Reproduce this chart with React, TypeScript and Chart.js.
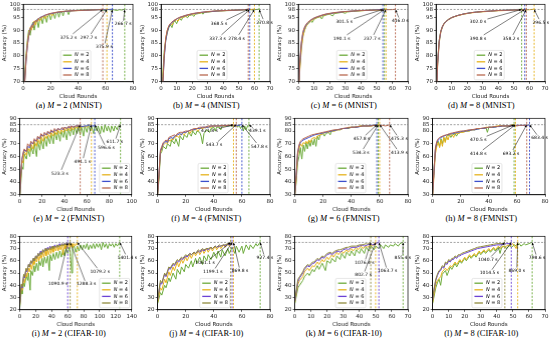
import React, { useEffect, useRef } from 'react';
import { Chart, registerables } from 'chart.js';
Chart.register(...registerables);

type P = [number, number];
type Note = [string, number, number, number];

const FONT = "'DejaVu Sans', sans-serif";
const N_LABELS = ['2', '4', '6', '8'];
const COLORS_A = ['#6dab3c', '#e6b31e', '#3d4fcc', '#b8684f'];
const COLORS_C = ['#6dab3c', '#e6b31e', '#6b42d4', '#8f8a3c'];

const MNIST_TICKS = [70, 75, 80, 85, 90, 95, 98, 100];
const FMNIST_TICKS = [30, 40, 50, 60, 70, 80, 85, 90];
const CIFAR_TICKS = [20, 30, 40, 50, 60, 70, 75, 80];

// ---------- (a) M=2 MNIST ----------
const a2: P[] = [[0,62],[1,72],[2,80],[3,86],[4,90],[5,88],[6,91],[7,93],[8,90],[9,93],[10,94],[11,91],[12,94],[13,95],[14,92.5],[15,95],[16,95.5],[17,93],[18,95.5],[19,96],[20,94],[21,96],[22,96.5],[23,94.5],[24,96.5],[25,97],[26,95],[27,97],[28,97.2],[29,95.5],[30,97.3],[32,97.4],[33,96],[34,97.5],[36,97.6],[38,97.6],[40,97.7],[44,97.8],[48,97.9],[52,97.9],[56,98],[60,97.6],[62,98],[64,97.8],[66,97.9],[68,97.6],[70,97.9],[72,97.8],[74,98.1]];
const a4: P[] = [[0,60],[1,70],[2,79],[3,85],[4,89],[5,91],[6,90],[7,92.5],[8,93.5],[9,92],[10,94],[11,94.5],[12,93.5],[14,95],[15,95.5],[16,94.5],[18,96],[20,96.3],[21,95.5],[22,96.5],[24,96.8],[26,97],[28,97.1],[30,97.2],[34,97.4],[38,97.5],[42,97.6],[46,97.7],[50,97.8],[54,97.9],[58,97.9],[61,98.1]];
const a6: P[] = [[0,58],[1,70],[2,78],[3,84],[4,88],[5,90.5],[6,91.5],[7,92.5],[8,93.2],[10,94],[12,94.8],[14,95.3],[16,95.8],[18,96.1],[20,96.4],[22,96.6],[25,96.9],[28,97.1],[32,97.3],[36,97.5],[40,97.6],[45,97.7],[50,97.8],[55,97.9],[60,97.9],[65,98.1]];
const a8: P[] = [[0,57],[1,69],[2,78],[3,84],[4,88],[5,90],[6,91.8],[7,91],[8,93],[9,93.8],[10,93.2],[11,94.3],[12,94.8],[14,95.2],[16,95.8],[18,96.2],[20,96.5],[22,96.7],[25,97],[28,97.2],[32,97.4],[36,97.5],[40,97.6],[45,97.7],[50,97.8],[54,97.9],[58,98.1]];
const aNotes: Note[] = [['375.2 s',33,87.2,3],['297.7 s',47.6,87.1,1],['375.9 s',59,83.5,2],['266.7 s',72.8,92.3,0]];

// ---------- (b) M=4 MNIST ----------
const b2: P[] = [[0,60],[1,72],[2,82],[3,86],[4,89],[5,91],[6,92],[7,91],[8,93],[9,93.5],[10,92.5],[11,94],[12,94.5],[13,93.8],[14,95],[16,95.3],[17,94.8],[18,95.6],[20,96],[21,95.3],[22,96.2],[24,96.4],[26,96.7],[27,96.2],[28,96.9],[30,97],[33,97.2],[36,97.4],[40,97.5],[45,97.6],[50,97.8],[55,97.9],[60,97.9],[63,98.1]];
const b4: P[] = [[0,60],[1,70],[2,80],[3,87],[4,90],[5,91.5],[6,92.3],[7,92],[8,93.3],[10,94],[11,93.5],[12,94.6],[14,95],[16,95.4],[18,95.8],[20,96.1],[22,96.3],[25,96.7],[28,96.9],[32,97.2],[36,97.4],[40,97.5],[45,97.7],[50,97.8],[55,97.9],[60,98.1]];
const b6: P[] = [[0,58],[1,68],[2,79],[3,86],[4,89.5],[5,91.3],[6,92.3],[8,93.5],[10,94.3],[12,94.9],[14,95.3],[16,95.7],[18,96],[20,96.3],[23,96.6],[26,96.9],[30,97.1],[34,97.3],[38,97.5],[42,97.6],[46,97.7],[50,97.8],[54,97.9],[57,98.1]];
const b8: P[] = [[0,57],[1,67],[2,80],[3,87],[4,90],[5,91.8],[6,92.6],[8,93.7],[10,94.4],[12,95],[14,95.4],[16,95.8],[18,96.1],[20,96.4],[23,96.7],[26,96.9],[30,97.2],[34,97.4],[38,97.5],[42,97.6],[46,97.7],[50,97.8],[53,97.9],[56,98.1]];
const bNotes: Note[] = [['368.5 s',37.3,92.6,3],['337.3 s',36.3,86.8,2],['278.4 s',48.5,86.8,1],['270.8 s',66.5,92.9,0]];

// ---------- (c) M=6 MNIST ----------
const c2: P[] = [[0,62],[1,76],[2,84],[3,88],[4,90],[5,91.5],[6,92.3],[7,93],[8,93.5],[9,93],[10,94.2],[12,94.8],[14,95.2],[15,94.3],[16,95.5],[18,95.9],[20,96.2],[22,95.5],[23,96.4],[25,96.6],[28,96.9],[30,96.5],[31,97],[35,97.3],[40,97.5],[45,97.7],[50,97.8],[53,97.9],[55,98.1]];
const c4: P[] = [[0,62],[1,75],[2,83],[3,87.5],[4,90],[5,91.5],[6,92.4],[8,93.6],[10,94.3],[12,94.9],[14,95.3],[16,95.7],[18,96],[20,96.3],[23,96.6],[26,96.9],[30,97.1],[35,97.4],[40,97.5],[45,97.7],[50,97.8],[56,98.1]];
const c6: P[] = [[0,63],[1,77],[2,85],[3,89],[4,90.8],[5,92],[6,92.8],[8,93.9],[10,94.6],[12,95.1],[14,95.5],[16,95.9],[18,96.2],[20,96.4],[23,96.7],[26,96.9],[30,97.2],[35,97.4],[40,97.6],[45,97.7],[50,97.9],[54,98.1]];
const c8: P[] = [[0,63],[1,78],[2,85.5],[3,89.5],[4,91.2],[5,92.3],[6,93],[8,94],[10,94.7],[12,95.2],[14,95.6],[16,96],[18,96.3],[20,96.5],[23,96.8],[26,97],[30,97.2],[35,97.4],[40,97.6],[45,97.7],[50,97.8],[55,97.9],[60,97.95],[62,98.1]];
const cNotes: Note[] = [['301.5 s',29.4,93.3,2],['190.1 s',27.7,86.8,0],['237.7 s',47,86.8,1],['416.0 s',65,93.5,3]];

// ---------- (d) M=8 MNIST ----------
const d2: P[] = [[0,62],[1,78],[2,86],[3,89.5],[4,91.3],[5,92.5],[6,93.2],[8,94.2],[10,94.9],[12,95.3],[14,95.7],[16,96],[18,96.3],[20,96.5],[23,96.8],[26,97],[30,97.2],[35,97.4],[40,97.6],[45,97.7],[50,97.9],[55,98.1]];
const d4: P[] = [[0,60],[1,76],[2,85],[3,89],[4,91],[5,92.2],[6,93],[8,94],[10,94.7],[12,95.2],[14,95.6],[16,95.9],[18,96.2],[20,96.4],[23,96.7],[26,96.9],[30,97.1],[35,97.3],[40,97.5],[45,97.6],[50,97.7],[55,97.8],[60,97.9],[63,98.1]];
const d6: P[] = [[0,61],[1,77],[2,85.5],[3,89.3],[4,91.2],[5,92.4],[6,93.1],[8,94.1],[10,94.8],[12,95.3],[14,95.7],[16,96],[18,96.3],[20,96.5],[23,96.8],[26,97],[30,97.2],[35,97.4],[40,97.6],[45,97.7],[50,97.8],[55,97.9],[57,98.1]];
const d8: P[] = [[0,61],[1,77.5],[2,86],[3,89.6],[4,91.4],[5,92.5],[6,93.2],[8,94.2],[10,94.9],[12,95.3],[14,95.7],[16,96],[18,96.3],[20,96.5],[23,96.8],[26,97],[30,97.2],[35,97.4],[40,97.6],[45,97.7],[50,97.8],[55,97.9],[58,98.1]];
const dNotes: Note[] = [['302.0 s',27,93.3,0],['390.8 s',27,86.8,2],['358.2 s',48.2,86.8,3],['296.5 s',67.3,92.9,1]];

// ---------- (e) M=2 FMNIST ----------
const e2: P[] = [[0,28],[1,40],[2,52],[3,50],[4,62],[6,58],[7,66],[9,60],[10,68],[12,62],[13,71],[15,60],[16,72],[18,65],[19,74],[21,66],[22,75],[24,68],[25,76],[27,70],[28,78],[30,70],[31,79],[33,73],[34,80],[36,72],[37,80],[39,75],[40,81],[42,73],[43,82],[45,76],[46,83],[48,77],[49,83],[51,78],[52,84],[54,77],[55,84],[57,76],[58,84],[60,79],[61,85],[63,80],[64,84],[66,78],[67,84],[69,80],[70,84],[72,78],[73,84],[75,79],[76,85],[78,80],[79,84],[81,79],[82,84],[84,80],[85,84],[87,81],[88,84],[90,85.3]];
const e4: P[] = [[0,30],[1,45],[2,57],[3,55],[4,64],[6,61],[7,67],[9,64],[10,70],[12,66],[13,72],[15,68],[16,74],[18,70],[19,76],[21,72],[22,77],[24,74],[25,78],[27,75],[28,79],[30,76],[31,80],[33,77],[34,81],[36,78],[37,81],[39,79],[40,82],[42,80],[43,83],[45,80],[46,83],[48,81],[49,84],[51,82],[52,84],[54,82],[55,84],[57,83],[58,84],[60,83],[62,84.5],[64,85.3]];
const e6: P[] = [[0,30],[1,46],[2,58],[3,62],[4,65],[6,64],[7,68],[9,67],[10,71],[12,70],[13,73],[15,72],[16,75],[18,74],[19,77],[21,76],[22,78],[24,77],[25,79],[27,78],[28,80],[30,79],[31,81],[33,80],[34,82],[36,81],[37,82],[39,81],[40,83],[42,82],[43,83],[45,83],[46,84],[48,83],[50,84],[52,84],[54,84],[56,83.5],[58,84],[60,84],[62,85],[63,83.5],[64,84],[66,84],[67,85.3]];
const e8: P[] = [[0,30],[1,47],[2,58],[3,63],[4,66],[6,64],[7,70],[9,68],[10,72],[12,70],[13,74],[15,72],[16,76],[18,74],[19,78],[21,76],[22,79],[24,77],[25,80],[27,78],[28,81],[30,79],[31,82],[33,80],[34,82],[36,81],[38,83],[39,81],[40,83],[42,82],[44,84],[45,82],[46,84],[48,83],[50,84],[52,84],[54,85.3]];
const eNotes: Note[] = [['523.3 s',35.8,46.8,3],['491.1 s',56,56,1],['596.6 s',77.3,66.5,2],['611.7 s',84.8,71.3,0]];

// ---------- (f) M=4 FMNIST ----------
const f2: P[] = [[0,30],[1,42],[2,62],[3,64],[4,68],[6,66],[7,70],[9,68],[10,73],[12,70],[13,74],[15,68],[16,76],[18,73],[19,77],[21,75],[22,79],[24,76],[25,80],[27,77],[28,80],[30,79],[31,76],[32,70],[33,78],[35,81],[37,79],[38,82],[40,83],[41,80],[42,83],[44,83],[45,81],[46,84],[48,84],[50,84],[52,84],[54,84],[56,85],[57,83],[58,85],[59,82],[60,84],[61,80],[62,84],[63,81],[64,84],[65,85.3]];
const f4: P[] = [[0,30],[1,45],[2,63],[3,66],[4,69],[5,70],[6,71],[7,70],[8,73],[9,72],[10,74],[11,73],[12,75],[14,76],[15,75],[16,77],[18,78],[19,77],[20,79],[22,80],[23,78],[24,80],[26,81],[28,81],[29,80],[30,82],[32,82],[34,83],[36,83],[38,83],[40,84],[42,84],[44,84],[46,84],[48,84],[50,84.5],[52,84.5],[54,85.3]];
const f6: P[] = [[0,30],[1,46],[2,64],[3,67],[4,70],[5,71],[6,72],[7,71],[8,74],[10,75],[11,74],[12,76],[14,77],[16,78],[17,77],[18,79],[20,79],[22,80],[24,81],[26,81],[28,82],[30,82],[32,83],[34,83],[36,83],[38,84],[40,84],[42,84],[44,84],[46,84],[48,84.5],[50,84],[52,84.5],[54,84],[56,84.5],[58,84.5],[60,85.3]];
const f8: P[] = [[0,30],[1,47],[2,65],[3,68],[4,71],[5,72],[6,73],[7,72],[8,75],[10,76],[12,77],[13,76],[14,78],[16,79],[18,79],[20,80],[22,80],[24,81],[26,82],[28,82],[30,83],[32,83],[34,83],[36,84],[38,84],[40,84],[42,84],[44,84],[46,84.5],[48,84.5],[50,84.5],[52,84.5],[54,84.5],[56,85.3]];
const fNotes: Note[] = [['421.8 s',36.9,79.9,1],['543.7 s',40.2,68.9,3],['547.8 s',72.4,67.9,2],['439.1 s',71,79.9,0]];

// ---------- (g) M=6 FMNIST ----------
const g2: P[] = [[0,30],[1,40],[2,55],[3,60],[4,67],[5,58],[6,69],[7,64],[8,71],[9,66],[10,72],[11,68],[12,73],[13,69],[14,74],[15,68],[16,76],[17,73],[18,77],[20,78],[21,76],[22,78],[24,79],[25,77],[26,80],[28,80],[30,81],[32,81],[34,82],[36,82],[38,82],[40,83],[42,83],[44,83],[46,84],[48,84],[50,84],[52,84],[54,84],[56,84.5],[59,85.3]];
const g4: P[] = [[0,30],[1,42],[2,60],[3,66],[4,70],[5,68],[6,71],[7,70],[8,72],[9,70],[10,73],[11,71],[12,74],[14,75],[15,74],[16,76],[18,77],[20,78],[22,79],[24,79],[26,80],[28,80],[30,81],[32,81],[34,82],[36,82],[38,83],[40,83],[42,83],[44,83],[46,84],[48,84],[50,84],[52,84],[54,84],[56,84.5],[58,84.5],[60,85.3]];
const g6: P[] = [[0,30],[1,45],[2,62],[3,68],[4,71],[5,72],[6,73],[8,74],[10,75],[12,76],[14,77],[16,77.5],[18,78],[20,78.5],[22,79],[24,79.5],[26,80],[28,80.5],[30,81],[32,81.5],[34,82],[36,82],[38,82.5],[40,83],[42,83],[44,83],[46,83.5],[48,84],[50,84],[52,84],[54,84.5],[56,84.5],[58,85.3]];
const g8: P[] = [[0,30],[1,46],[2,63],[3,69],[4,72],[5,73],[6,74],[8,75],[10,76],[12,77],[14,77.5],[16,78],[18,78.5],[20,79],[22,79.5],[24,80],[26,80.5],[28,81],[30,81],[32,81.5],[34,82],[36,82.5],[38,82.5],[40,83],[42,83],[44,83.5],[46,83.5],[48,84],[50,84],[52,84],[54,84],[56,84.5],[58,84],[60,84.5],[62,84.5],[64,84],[66,84.5],[67,85.3]];
const gNotes: Note[] = [['457.8 s',47.3,73.9,2],['534.3 s',46.8,63.1,0],['475.3 s',73.9,73.9,3],['413.9 s',73.9,63.1,1]];

// ---------- (h) M=8 FMNIST ----------
const h2: P[] = [[0,30],[1,50],[2,65],[3,70],[4,72],[5,68],[6,74],[7,70],[8,75],[9,72],[10,76],[12,77],[13,75],[14,77],[16,78],[17,76],[18,78],[20,79],[22,79.5],[24,80],[26,80],[28,81],[30,81],[32,81.5],[34,82],[36,82],[38,82.5],[39,79],[40,83],[42,83],[44,83],[46,83.5],[48,84],[50,84],[52,84],[54,84],[56,84.5],[58,85.3]];
const h4: P[] = [[0,28],[1,45],[2,62],[3,68],[4,71],[5,67],[6,73],[7,68],[8,75],[9,71],[10,76],[11,73],[12,77],[14,77],[15,75],[16,78],[18,78],[20,79],[22,79],[24,80],[26,80],[28,81],[30,81],[32,82],[34,82],[36,82],[38,83],[40,83],[42,83],[44,83.5],[46,84],[48,84],[50,84],[52,84],[54,84],[56,84.5],[59,85.3]];
const h6: P[] = [[0,30],[1,48],[2,66],[3,71],[4,73],[5,74],[6,75],[8,76],[10,77],[12,77.5],[14,78],[16,78.5],[18,79],[20,79.5],[22,80],[24,80],[26,80.5],[28,81],[30,81],[32,81.5],[34,82],[36,82],[38,82.5],[40,83],[42,83],[44,83],[46,83.5],[48,83.5],[50,84],[52,84],[54,84],[56,84],[58,84],[60,84.5],[62,84.5],[64,84.5],[66,84.5],[68,84.5],[69,85.3]];
const h8: P[] = [[0,30],[1,49],[2,67],[3,72],[4,74],[5,75],[6,75.5],[8,76.5],[10,77],[12,78],[14,78.5],[16,79],[18,79.5],[20,80],[22,80],[24,80.5],[26,81],[28,81],[30,81.5],[32,82],[34,82],[36,82.5],[38,82.5],[40,83],[42,83],[44,83.5],[46,83.5],[48,84],[50,84],[52,84],[54,84],[56,84],[58,84.5],[60,84],[62,84.5],[64,84.5],[66,84.5],[67,85.3]];
const hNotes: Note[] = [['470.5 s',32.5,73.2,0],['414.8 s',32.5,62.4,1],['693.2 s',55.8,62.4,3],['683.4 s',76.1,74.4,2]];

// ---------- (i) M=2 CIFAR-10 ----------
const i2: P[] = [[0,22],[2,36],[3,33],[5,42],[6,39],[8,48],[10,44],[11,50],[13,36],[14,52],[16,48],[18,56],[19,51],[21,58],[23,52],[24,60],[26,56],[28,62],[29,55],[31,63],[33,58],[35,64],[37,52],[38,65],[40,60],[42,66],[44,61],[46,67],[48,62],[50,68],[52,63],[54,69],[56,64],[58,70],[60,66],[62,71],[63,67],[65,50],[66,70],[68,72],[70,67],[72,72],[74,68],[76,73],[78,69],[80,73],[82,70],[84,74],[86,69],[88,73],[90,70],[92,74],[94,70],[96,74],[98,71],[100,74],[102,69],[104,75],[106,71],[108,74],[110,70],[112,74],[114,72],[116,74],[118,71],[120,74],[122,72],[125,75.3]];
const i4: P[] = [[0,24],[2,38],[3,36],[5,45],[6,42],[8,50],[9,47],[11,54],[12,51],[14,57],[15,53],[17,60],[18,57],[20,62],[21,59],[23,64],[24,60],[26,65],[27,62],[29,67],[30,63],[32,68],[33,64],[35,69],[36,65],[38,70],[39,66],[41,71],[42,67],[44,71],[45,68],[47,72],[48,68],[50,72],[51,69],[53,73],[54,65],[56,73],[57,70],[59,74],[60,70],[62,74],[63,71],[65,74],[66,71],[68,74],[69,72],[72,75.3]];
const i6: P[] = [[0,25],[2,40],[3,38],[5,48],[6,46],[8,53],[9,51],[11,57],[12,55],[14,60],[15,58],[17,62],[18,60],[20,64],[21,62],[23,66],[24,64],[26,68],[27,66],[29,69],[30,67],[32,70],[33,68],[35,71],[36,69],[38,72],[39,70],[41,72],[42,71],[44,73],[45,71],[47,73],[48,72],[50,74],[51,72],[53,74],[54,73],[56,74],[57,73],[60,75.3]];
const i8: P[] = [[0,26],[2,41],[3,39],[5,49],[6,47],[8,54],[9,52],[11,57],[12,55],[14,60],[15,58],[17,62],[18,60],[20,64],[21,62],[23,66],[24,64],[26,67],[27,65],[29,69],[30,67],[32,70],[33,68],[35,70],[36,69],[38,71],[39,69],[41,72],[42,70],[44,72],[45,71],[47,73],[48,71],[50,73],[51,72],[53,74],[54,72],[56,74],[57,73],[59,74],[60,73],[63,75.3]];
const iNotes: Note[] = [['1090.9 s',47.8,41.3,2],['1288.3 s',83.2,40.8,3],['1079.2 s',100.3,51.1,1],['1401.4 s',134.4,62.4,0]];

// ---------- (j) M=4 CIFAR-10 ----------
const j2: P[] = [[0,25],[2,34],[3,32],[5,40],[6,38],[8,46],[9,43],[11,50],[13,45],[14,53],[16,49],[17,55],[19,51],[20,57],[22,54],[24,60],[25,55],[27,62],[28,58],[30,63],[32,57],[33,64],[35,60],[36,65],[38,61],[40,67],[42,62],[43,68],[45,63],[46,69],[48,64],[50,70],[51,66],[53,71],[55,66],[56,72],[58,67],[60,72],[61,66],[63,73],[65,69],[66,73],[68,70],[70,74],[71,72],[73,75.3]];
const j4: P[] = [[0,26],[2,38],[3,36],[5,45],[6,42],[8,51],[9,48],[11,55],[12,52],[14,59],[15,55],[17,61],[18,58],[20,63],[21,60],[23,65],[24,62],[26,67],[27,64],[29,68],[30,65],[32,69],[33,66],[35,70],[36,67],[38,71],[39,68],[41,72],[42,69],[44,72],[45,70],[47,73],[48,71],[50,74],[51,72],[54,75.3]];
const j6: P[] = [[0,28],[2,42],[3,41],[5,49],[6,47],[8,54],[9,53],[11,57],[12,56],[14,60],[15,59],[17,62],[18,61],[20,64],[21,63],[23,66],[24,65],[26,67],[27,66],[29,68],[30,67],[32,69],[33,68],[35,70],[36,69],[38,71],[39,70],[41,72],[42,71],[44,72],[45,72],[47,73],[48,72],[50,74],[51,73],[53,75.3]];
const j8: P[] = [[0,28],[2,44],[3,42],[5,50],[6,48],[8,55],[9,54],[11,58],[12,57],[14,61],[15,60],[17,63],[18,62],[20,65],[21,64],[23,66],[24,65],[26,67],[27,66],[29,69],[30,68],[32,70],[33,69],[35,70],[36,70],[38,71],[39,70],[41,72],[42,71],[44,73],[45,72],[47,73],[48,73],[50,74],[52,75.3]];
const jNotes: Note[] = [['1061.1 s',33.8,58.3,3],['1199.1 s',39.3,50.9,2],['869.8 s',58.7,51.6,1],['927.4 s',76.4,62.2,0]];

// ---------- (k) M=6 CIFAR-10 ----------
const k2: P[] = [[0,25],[2,38],[3,40],[5,44],[6,47],[8,50],[9,48],[11,53],[12,51],[14,56],[15,53],[17,58],[19,52],[20,60],[22,58],[23,62],[25,59],[26,64],[28,61],[29,66],[31,62],[32,67],[34,64],[35,68],[37,64],[38,69],[40,66],[41,70],[43,66],[44,71],[46,68],[47,72],[49,69],[50,72],[52,70],[53,73],[55,70],[56,73],[58,71],[59,73],[61,72],[62,74],[64,72],[65,74],[67,75.3]];
const k4: P[] = [[0,26],[2,41],[3,44],[5,47],[6,51],[8,54],[9,52],[11,56],[12,55],[14,59],[15,57],[17,61],[18,59],[20,63],[21,61],[23,65],[24,63],[26,67],[27,65],[29,68],[30,66],[32,69],[33,67],[35,70],[36,68],[38,71],[39,69],[41,72],[42,70],[44,72],[45,71],[47,73],[48,72],[50,75.3]];
const k6: P[] = [[0,27],[2,43],[3,46],[5,50],[6,53],[8,56],[9,55],[11,58],[12,58],[14,61],[15,60],[17,63],[18,62],[20,65],[22,66],[23,65],[25,67],[27,68],[28,67],[30,69],[32,70],[33,69],[35,71],[37,71],[38,71],[40,72],[42,73],[43,72],[45,73],[47,74],[48,73],[50,74],[52,75.3]];
const k8: P[] = [[0,28],[2,45],[3,47],[5,51],[6,54],[8,57],[9,56],[11,59],[12,59],[14,62],[15,61],[17,64],[18,63],[20,66],[22,67],[23,66],[25,68],[27,69],[28,69],[30,70],[32,71],[33,71],[35,72],[37,72],[38,72],[40,73],[42,73],[44,74],[45,73.5],[47,75.3]];
const kNotes: Note[] = [['1076.4 s',43.1,58.3,3],['802.7 s',42.4,48.4,1],['1063.7 s',57.3,51.6,2],['855.4 s',66.8,62.2,0]];

// ---------- (l) M=8 CIFAR-10 ----------
const l2: P[] = [[0,25],[2,38],[3,42],[4,45],[5,40],[6,49],[8,52],[9,48],[11,55],[12,53],[14,58],[15,55],[17,60],[18,58],[20,62],[21,60],[23,64],[24,62],[26,65],[27,63],[29,67],[30,65],[32,68],[33,66],[35,69],[36,67],[38,70],[39,68],[41,71],[42,66],[43,71],[45,72],[46,70],[48,73],[49,71],[51,73],[52,72],[54,74],[55,72],[57,74],[58,73],[60,74],[62,75.3]];
const l4: P[] = [[0,26],[2,41],[3,44],[5,47],[6,51],[8,54],[9,52],[11,56],[12,55],[14,59],[15,57],[17,61],[18,59],[20,63],[21,61],[23,65],[24,63],[26,66],[27,64],[29,68],[30,66],[32,69],[33,67],[35,70],[36,68],[38,71],[39,69],[41,72],[42,70],[44,72],[45,71],[47,73],[48,72],[50,74],[51,72],[52,70],[53,75.3]];
const l6: P[] = [[0,28],[1,37],[2,44],[3,48],[4,51],[5,52],[6,55],[7,54],[8,58],[9,57],[10,60],[11,59],[12,61],[13,61],[14,63],[15,62],[16,64],[17,64],[18,65],[20,66],[22,67],[24,68],[26,69],[28,70],[30,70.5],[32,71],[34,71.5],[36,72],[38,72.5],[40,73],[42,73],[44,73.5],[46,74],[48,74],[49,75.3]];
const l8: P[] = [[0,29],[1,38],[2,45],[3,49],[4,52],[5,53],[6,56],[7,55],[8,59],[9,58],[10,61],[11,60],[12,62],[13,62],[14,64],[15,63],[16,65],[17,65],[18,66],[20,67],[22,68],[24,69],[26,70],[28,71],[30,71.5],[32,72],[34,72.5],[36,73],[38,73.5],[40,74],[42,74],[44,74],[45,75.3]];
const lNotes: Note[] = [['1040.7 s',34.4,60.7,3],['1014.5 s',35.4,49.9,2],['869.0 s',52.4,51.6,1],['798.6 s',65.1,62.2,0]];

type PanelCfg = {
  id: string; m: number; ds: string; series: P[][]; notes: Note[];
  xMax: number; xStep: number; yMin: number; yMax: number; yTicks: number[]; target: number;
  colors: string[]; lx: number; legendRight?: boolean; row: number; col: number;
};

const mn = { ds: 'MNIST', yMin: 70, yMax: 100, yTicks: MNIST_TICKS, target: 98, colors: COLORS_A, row: 0 };
const fm = { ds: 'FMNIST', yMin: 30, yMax: 90, yTicks: FMNIST_TICKS, target: 85, colors: COLORS_A, row: 1 };
const cf = { ds: 'CIFAR-10', yMin: 20, yMax: 80, yTicks: CIFAR_TICKS, target: 75, colors: COLORS_C, row: 2 };

const PANELS: PanelCfg[] = [
  { ...mn, id: 'a', m: 2, col: 0, series: [a2, a4, a6, a8], notes: aNotes, xMax: 80, xStep: 20, lx: 0.34 },
  { ...mn, id: 'b', m: 4, col: 1, series: [b2, b4, b6, b8], notes: bNotes, xMax: 70, xStep: 10, lx: 0.33 },
  { ...mn, id: 'c', m: 6, col: 2, series: [c2, c4, c6, c8], notes: cNotes, xMax: 70, xStep: 10, lx: 0.35 },
  { ...mn, id: 'd', m: 8, col: 3, series: [d2, d4, d6, d8], notes: dNotes, xMax: 70, xStep: 10, lx: 0.35 },
  { ...fm, id: 'e', m: 2, col: 0, series: [e2, e4, e6, e8], notes: eNotes, xMax: 100, xStep: 20, lx: 0.7, legendRight: true },
  { ...fm, id: 'f', m: 4, col: 1, series: [f2, f4, f6, f8], notes: fNotes, xMax: 80, xStep: 20, lx: 0.36 },
  { ...fm, id: 'g', m: 6, col: 2, series: [g2, g4, g6, g8], notes: gNotes, xMax: 80, xStep: 20, lx: 0.36 },
  { ...fm, id: 'h', m: 8, col: 3, series: [h2, h4, h6, h8], notes: hNotes, xMax: 80, xStep: 20, lx: 0.35 },
  { ...cf, id: 'i', m: 2, col: 0, series: [i2, i4, i6, i8], notes: iNotes, xMax: 140, xStep: 20, lx: 0.7, legendRight: true },
  { ...cf, id: 'j', m: 4, col: 1, series: [j2, j4, j6, j8], notes: jNotes, xMax: 80, xStep: 20, lx: 0.375 },
  { ...cf, id: 'k', m: 6, col: 2, series: [k2, k4, k6, k8], notes: kNotes, xMax: 70, xStep: 10, lx: 0.36 },
  { ...cf, id: 'l', m: 8, col: 3, series: [l2, l4, l6, l8], notes: lNotes, xMax: 70, xStep: 10, lx: 0.35 },
];

const ROW_TOP = [0, 114, 232];
const CANVAS_H = [100, 99, 96];
const COL_W = 137.5;

function makeOverlay(p: PanelCfg) {
  return {
    id: 'overlay_' + p.id,
    afterDatasetsDraw(chart: any) {
      const { ctx, chartArea: a, scales } = chart;
      const xs = scales.x, ys = scales.y;
      const endX = (s: P[]) => xs.getPixelForValue(s[s.length - 1][0]);
      const tY = ys.getPixelForValue(p.target);
      ctx.save();
      ctx.lineWidth = 0.7;
      ctx.setLineDash([2, 1.5]);
      ctx.strokeStyle = '#7a7a7a';
      ctx.beginPath(); ctx.moveTo(a.left, tY); ctx.lineTo(a.right, tY); ctx.stroke();
      p.series.forEach((s, i) => {
        const ex = endX(s);
        ctx.strokeStyle = p.colors[i];
        ctx.lineWidth = 0.9;
        ctx.beginPath(); ctx.moveTo(ex, a.top); ctx.lineTo(ex, a.bottom); ctx.stroke();
      });
      ctx.setLineDash([]);
      ctx.strokeStyle = '#000'; ctx.lineWidth = 0.7;
      ctx.strokeRect(a.left, a.top, a.right - a.left, a.bottom - a.top);

      // annotations
      ctx.font = `4.5px ${FONT}`;
      ctx.textAlign = 'center'; ctx.textBaseline = 'middle'; ctx.fillStyle = '#000';
      p.notes.forEach(([txt, tx, tyv, si]) => {
        const cx = xs.getPixelForValue(tx), cy = ys.getPixelForValue(tyv);
        const px = endX(p.series[si]), py = tY;
        ctx.fillText(txt, cx, cy);
        const w = ctx.measureText(txt).width;
        const dx = px - cx, dy = py - cy;
        const t = Math.min((w / 2 + 1) / Math.max(Math.abs(dx), 1e-6), 3.5 / Math.max(Math.abs(dy), 1e-6));
        const sx = cx + dx * t, sy = cy + dy * t;
        const len = Math.hypot(px - sx, py - sy) || 1;
        const ux = (px - sx) / len, uy = (py - sy) / len;
        const hl = 2.6, hw = 1.1;
        const bx = px - ux * hl, by = py - uy * hl;
        ctx.strokeStyle = '#000'; ctx.lineWidth = 0.5;
        ctx.beginPath(); ctx.moveTo(sx, sy); ctx.lineTo(bx, by); ctx.stroke();
        ctx.beginPath(); ctx.moveTo(px, py); ctx.lineTo(bx - uy * hw, by + ux * hw); ctx.lineTo(bx + uy * hw, by - ux * hw); ctx.closePath(); ctx.fill();
      });

      // legend
      const rowH = 6.6, bw = 30, bh = 4 * rowH + 3;
      const lx = p.legendRight ? a.right - bw - 2 : a.left + p.lx * (a.right - a.left);
      const ly = a.bottom - bh - 2;
      ctx.fillStyle = 'rgba(255,255,255,0.85)';
      ctx.strokeStyle = '#cccccc'; ctx.lineWidth = 0.5;
      ctx.beginPath(); (ctx as any).roundRect(lx, ly, bw, bh, 1.5); ctx.fill(); ctx.stroke();
      ctx.textAlign = 'left'; ctx.textBaseline = 'middle';
      N_LABELS.forEach((n, i) => {
        const yy = ly + 1.5 + rowH * (i + 0.5);
        ctx.strokeStyle = p.colors[i]; ctx.lineWidth = 1.3;
        ctx.beginPath(); ctx.moveTo(lx + 2.5, yy); ctx.lineTo(lx + 11, yy); ctx.stroke();
        ctx.fillStyle = '#000';
        ctx.font = `italic 5px ${FONT}`;
        ctx.fillText('N', lx + 14, yy);
        const nw = ctx.measureText('N').width;
        ctx.font = `5px ${FONT}`;
        ctx.fillText(' = ' + n, lx + 14 + nw, yy);
      });
      ctx.restore();
    },
  };
}

function Panel({ p }: { p: PanelCfg }) {
  const ref = useRef<HTMLCanvasElement>(null);
  const ch = CANVAS_H[p.row];
  useEffect(() => {
    const tickFont = { family: FONT, size: 5.5 };
    const chart = new Chart(ref.current!, {
      type: 'line',
      data: {
        datasets: p.series.map((s, i) => ({
          label: 'N = ' + N_LABELS[i],
          data: s.map(([x, y]) => ({ x, y })),
          borderColor: p.colors[i],
          backgroundColor: p.colors[i],
          borderWidth: 1,
          pointRadius: 0,
          tension: 0,
          fill: false,
          order: 3 - i,
        })),
      },
      options: {
        responsive: false,
        maintainAspectRatio: false,
        animation: false,
        events: [],
        layout: { padding: { top: 4, right: 5, left: 1, bottom: 0 } },
        scales: {
          x: {
            type: 'linear', min: 0, max: p.xMax,
            ticks: { stepSize: p.xStep, font: tickFont, color: '#222', padding: 1, maxRotation: 0 },
            grid: { drawOnChartArea: false, tickLength: 2, color: '#000', lineWidth: 0.6 },
            border: { display: true, color: '#000', width: 0.7 },
            title: { display: true, text: 'Cloud Rounds', font: tickFont, color: '#222', padding: { top: 1, bottom: 0 } },
          },
          y: {
            type: 'linear', min: p.yMin, max: p.yMax,
            afterBuildTicks: (scale: any) => { scale.ticks = p.yTicks.map((v) => ({ value: v })); },
            ticks: { font: tickFont, color: '#222', padding: 1, autoSkip: false },
            grid: { drawOnChartArea: false, tickLength: 2, color: '#000', lineWidth: 0.6 },
            border: { display: true, color: '#000', width: 0.7 },
            title: { display: true, text: 'Accuracy (%)', font: tickFont, color: '#222', padding: { top: 0, bottom: 1 } },
          },
        },
        plugins: { legend: { display: false }, tooltip: { enabled: false } },
      } as any,
      plugins: [makeOverlay(p)],
    });
    return () => chart.destroy();
  }, []);
  return (
    <div style={{ position: 'absolute', left: p.col * COL_W, top: ROW_TOP[p.row], width: COL_W, height: ch + 12 }}>
      <canvas ref={ref} width={COL_W} height={ch} style={{ display: 'block', width: COL_W, height: ch }} />
      <div style={{ position: 'absolute', left: 0, top: ch, width: COL_W, textAlign: 'center', fontFamily: "'Liberation Serif', serif", fontSize: 8.5, lineHeight: '11px', color: '#000', whiteSpace: 'nowrap' }}>
        ({p.id}) <i>M</i> = {p.m} ({p.ds})
      </div>
    </div>
  );
}

export default function App() {
  return (
    <div style={{ position: 'fixed', left: 0, top: 0, width: 550, height: 346, background: '#fff', overflow: 'hidden' }}>
      {PANELS.map((p) => <Panel key={p.id} p={p} />)}
    </div>
  );
}
